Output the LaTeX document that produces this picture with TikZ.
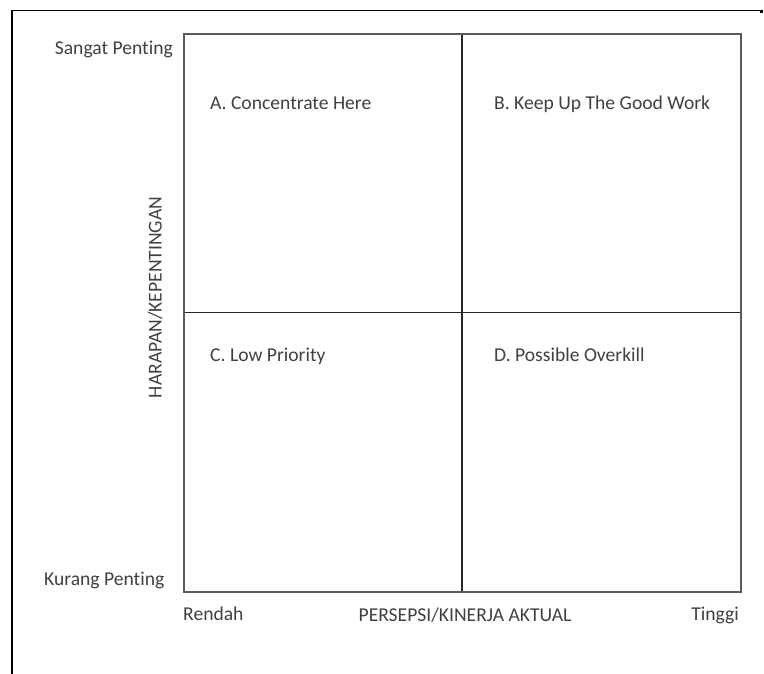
\documentclass[tikz,border=0pt]{standalone}
\usepackage{fontspec}
\setmainfont[Ligatures=NoCommon]{Carlito}
\definecolor{txt}{HTML}{404040}
\definecolor{boxc}{HTML}{5A5A5A}
\begin{document}
\begin{tikzpicture}[x=1bp,y=-1bp,
  lbl/.style={inner sep=0pt,text=txt,font=\fontsize{19.6bp}{23bp}\selectfont},
  frameline/.style={draw=black,line width=1.6bp},
  boxline/.style={draw=boxc,line width=2bp},
  divline/.style={draw=black!85,line width=1.5bp}]
\useasboundingbox (0,0) rectangle (764,674);
% outer frame
\coordinate (ftl) at (12,10.5);
\coordinate (ftr) at (763,10.5);
\coordinate (fbl) at (12,674);
\draw[frameline] (ftr) -- (ftl) -- (fbl);
\coordinate (rt1) at (761.5,10);
\coordinate (rt2) at (761.5,13.5);
\draw[frameline,line width=2.5bp] (rt1) -- (rt2);
% matrix box
\coordinate (tl) at (184,34);
\coordinate (br) at (741,591.5);
\coordinate (mt) at (462,34);
\coordinate (mb) at (462,591.5);
\coordinate (ml) at (184,312.5);
\coordinate (mr) at (741,312.5);
\draw[divline] (mt) -- (mb);
\draw[divline] (ml) -- (mr);
\draw[boxline] (tl) rectangle (br);
% quadrant labels
\node[lbl,anchor=base west] (qa) at (210,110) {A. Concentrate Here};
\node[lbl,anchor=base west] (qb) at (494,110) {B. Keep Up The Good Work};
\node[lbl,anchor=base west] (qc) at (210,361) {C. Low Priority};
\node[lbl,anchor=base west] (qd) at (494,361) {D. Possible Overkill};
% axis labels
\node[lbl,anchor=base east] (sp) at (173,55) {Sangat Penting};
\node[lbl,anchor=base east] (kp) at (164.5,585) {Kurang Penting};
\node[lbl,anchor=base west] (rd) at (183,620) {Rendah};
\node[lbl,anchor=base east] (tg) at (739,620) {Tinggi};
\node[lbl,anchor=base] (xl) at (465,621) {PERSEPSI/KINERJA AKTUAL};
\node[lbl,anchor=base,rotate=90] (yl) at (161.5,297.5) {HARAPAN/KEPENTINGAN};
\end{tikzpicture}
\end{document}
